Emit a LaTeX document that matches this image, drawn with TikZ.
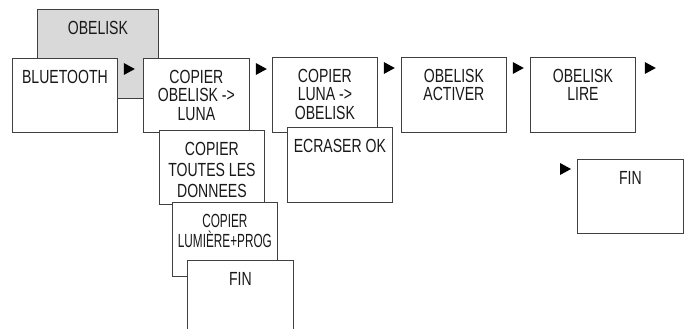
\documentclass[tikz,border=0pt]{standalone}
\usepackage{fontspec}
\setmainfont{Liberation Sans}[FakeStretch=0.74]
\newfontfamily\narrowfont{Liberation Sans}[FakeStretch=0.62]
\usetikzlibrary{positioning}

\begin{document}
\begin{tikzpicture}[x=1pt, y=-1pt,
    menufont/.store in=\menufont,
    menufont=\fontsize{19}{18.5}\selectfont,
    menubox/.style 2 args={draw=black!75, line width=0.8pt, fill=white,
        anchor=north west, inner sep=0pt, text=black!90,
        execute at begin node={\begin{minipage}[t][#2][t]{#1}\centering\menufont\vspace*{11.5pt}\rule{0pt}{13.5pt}},
        execute at end node={\end{minipage}}},
    playmark/.style={fill=black}]

\useasboundingbox (0,0) rectangle (688,329);
\clip (0,0) rectangle (688,329);

% ---------------------------------------------------------------------------
% Top level: OBELISK menu behind the first row
% ---------------------------------------------------------------------------
\node[menubox={121pt}{89pt}, fill=black!15] (obelisk) at (37,9) {OBELISK};

% ---------------------------------------------------------------------------
% First row of sub-menus
% ---------------------------------------------------------------------------
\node[menubox={105pt}{74pt}] (bt) at (12,58) {BLUETOOTH};
\node[menubox={106pt}{74pt}] (copol) at (143,58) {COPIER\\OBELISK ->\\LUNA};

% Stack below COPIER OBELISK -> LUNA
\node[menubox={105pt}{74pt}, menufont=\fontsize{19}{21}\selectfont] (toutes) at (159,130)
    {COPIER\\TOUTES LES\\DONNEES};
\node[menubox={105pt}{74pt}, menufont=\narrowfont\fontsize{19}{20}\selectfont] (lumiere) at (172,202)
    {COPIER\\LUMIÈRE+PROG};
\node[menubox={106pt}{80pt}] (finA) at (187,260) {FIN};

% COPIER LUNA -> OBELISK and its confirmation
\node[menubox={105pt}{75pt}] (copluna) at (272,57) {COPIER\\LUNA ->\\OBELISK};
\node[menubox={105pt}{75pt}] (ecraser) at (287,127) {ECRASER OK};

\node[menubox={105pt}{75pt}] (activer) at (401,57) {OBELISK\\ACTIVER};
\node[menubox={105pt}{75pt}] (lire) at (530,57) {OBELISK\\LIRE};

% End of the row
\node[menubox={106pt}{74pt}] (finB) at (577,159) {FIN};

% ---------------------------------------------------------------------------
% Play marks between the menus
% ---------------------------------------------------------------------------
\foreach \b/\dx in {bt/6, copol/6, copluna/6, activer/6, lire/9}
    \fill[playmark] ([xshift=\dx pt, yshift=-5pt]\b.north east) -- ++(11,6) -- ++(-11,6) -- cycle;

\fill[playmark] ([xshift=-17pt, yshift=-4pt]finB.north west) -- ++(11,6) -- ++(-11,6) -- cycle;

\end{tikzpicture}
\end{document}
